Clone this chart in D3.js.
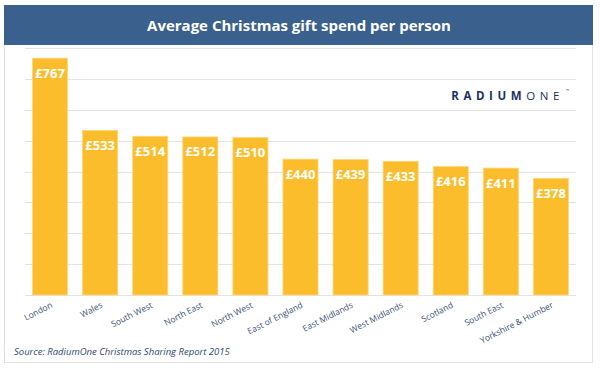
<!DOCTYPE html>
<html>
<head>
<meta charset="utf-8">
<script src="https://cdn.jsdelivr.net/npm/d3@7"></script>
<style>
  body { margin: 0; background: #fff; }
  #chart-wrapper { width: 600px; height: 373px; }
</style>
</head>
<body>
<div id="chart-wrapper"></div>
<script>
// values
const categories = ["London", "Wales", "South West", "North East", "North West", "East of England",
  "East Midlands", "West Midlands", "Scotland", "South East", "Yorkshire & Humber"];
const spend = [767, 533, 514, 512, 510, 440, 439, 433, 416, 411, 378];
const yTicks = [0, 100, 200, 300, 400, 500, 600, 700, 800];

const titleText = "Average Christmas gift spend per person";
const sourceText = "Source: RadiumOne Christmas Sharing Report 2015";

const width = 600;
const height = 373;
const plot = { left: 25, right: 576, top: 48, bottom: 295 };

const svg = d3.select("#chart-wrapper")
  .append("svg")
  .attr("width", width)
  .attr("height", height);

// outer panel
svg.append("rect")
  .attr("x", 4.5).attr("y", 44.5)
  .attr("width", 588).attr("height", 318)
  .attr("fill", "#fff")
  .attr("stroke", "#e2e2e2");

// title bar
svg.append("rect")
  .attr("x", 4).attr("y", 5)
  .attr("width", 589).attr("height", 40)
  .attr("fill", "#3a608e");
svg.append("text")
  .attr("x", 299).attr("y", 31)
  .attr("text-anchor", "middle")
  .attr("fill", "#fff")
  .style("font-family", "'Open Sans', sans-serif")
  .style("font-weight", 700)
  .style("font-size", "15px")
  .text(titleText);

const xScale = d3.scaleBand()
  .domain(categories)
  .range([plot.left, plot.right])
  .paddingInner(0.3)
  .paddingOuter(0.15);

const yScale = d3.scaleLinear()
  .domain([0, 800])
  .range([plot.bottom, plot.top]);

// gridlines
svg.append("g")
  .classed("grid", true)
  .selectAll("line")
  .data(yTicks)
  .join("line")
  .attr("x1", plot.left)
  .attr("x2", plot.right)
  .attr("y1", d => Math.round(yScale(d)) + 0.5)
  .attr("y2", d => Math.round(yScale(d)) + 0.5)
  .attr("stroke", "#e3e3e3")
  .attr("stroke-width", 1.2);

// bars
const bars = svg.append("g").classed("bars", true);
bars.selectAll("rect")
  .data(spend)
  .join("rect")
  .attr("x", (d, i) => xScale(categories[i]))
  .attr("y", d => yScale(d))
  .attr("width", xScale.bandwidth())
  .attr("height", d => yScale(0) - yScale(d))
  .attr("fill", "#fcbd2d")
  .attr("stroke", "#fdd77a")
  .attr("stroke-width", 0.8);

bars.selectAll("text")
  .data(spend)
  .join("text")
  .attr("x", (d, i) => xScale(categories[i]) + xScale.bandwidth() / 2)
  .attr("y", d => yScale(d) + 19.5)
  .attr("text-anchor", "middle")
  .attr("fill", "#fff")
  .style("font-family", "'Open Sans', sans-serif")
  .style("font-weight", 700)
  .style("font-size", "13px")
  .text(d => "£" + d);

// category labels, rotated
svg.append("g")
  .classed("x-labels", true)
  .selectAll("text")
  .data(categories)
  .join("text")
  .attr("transform", d => {
    const cx = xScale(d) + xScale.bandwidth() / 2 + 3;
    return `translate(${cx},307) rotate(-27)`;
  })
  .attr("text-anchor", "end")
  .attr("fill", "#3d5278")
  .style("font-family", "'Open Sans', sans-serif")
  .style("font-size", "8.5px")
  .text(d => d);

// logo
const logo = svg.append("text")
  .attr("x", 564).attr("y", 99.5)
  .attr("text-anchor", "end")
  .attr("fill", "#1f2f63")
  .style("font-family", "'Open Sans', sans-serif")
  .style("font-size", "11.5px")
  .style("letter-spacing", "4.6px");
logo.append("tspan").style("font-weight", 700).text("RADIUM");
logo.append("tspan").style("font-weight", 400).text("ONE");
svg.append("text")
  .attr("x", 566).attr("y", 92)
  .attr("fill", "#1f2f63")
  .style("font-family", "'Open Sans', sans-serif")
  .style("font-size", "4px")
  .text("™");

// source
svg.append("text")
  .attr("x", 14).attr("y", 355)
  .attr("fill", "#2f4670")
  .style("font-family", "'Open Sans', sans-serif")
  .style("font-style", "italic")
  .style("font-size", "9.5px")
  .text(sourceText);
</script>
</body>
</html>
